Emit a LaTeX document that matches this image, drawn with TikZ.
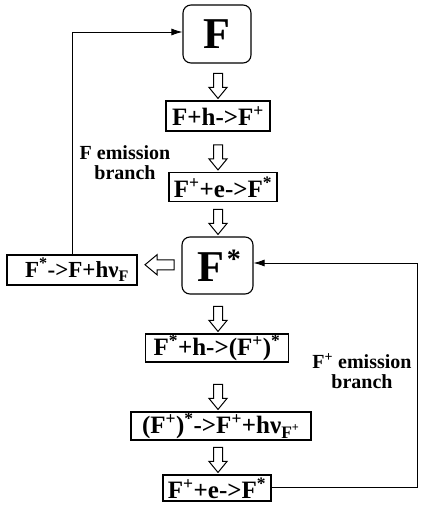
\documentclass[tikz,border=0pt]{standalone}
\usepackage{fontspec}
\setmainfont{Liberation Serif}
\usetikzlibrary{arrows.meta,calc}

\newcommand\hsup[1]{\textsuperscript{#1}}
\newcommand\hsub[1]{\textsubscript{#1}}
% hollow block arrows: \hdown takes the tip, \hleft the centre
\newcommand\hdown[1]{\draw[hollow] ($(#1)+(-4.5,-25)$) -- ++(0,14) -- ++(-4.5,0) -- ++(9,11) -- ++(9,-11) -- ++(-4.5,0) -- ++(0,-14) -- cycle;}
\newcommand\hleft[1]{\draw[hollow] ($(#1)+(14.5,-5)$) -- ++(-17,0) -- ++(0,-5) -- ++(-12,10) -- ++(12,10) -- ++(0,-5) -- ++(17,0) -- cycle;}

\begin{document}
\begin{tikzpicture}[x=1pt,y=-1pt,
  eqbox/.style={draw, line width=1.1pt, inner xsep=3pt, inner ysep=1pt, minimum height=28pt,
    font=\bfseries\fontsize{25}{25}\selectfont},
  statebox/.style={draw, line width=1.1pt, rounded corners=8pt,
    font=\bfseries\fontsize{44}{44}\selectfont},
  flow/.style={line width=0.8pt, -{Latex[length=11pt,width=7pt]}},
  branchtext/.style={align=center, font=\bfseries\fontsize{20}{20}\selectfont},
  hollow/.style={line width=1pt, fill=white, line join=miter}]

\fill[white] (0,0) rectangle (425,508);
\useasboundingbox (0,0) rectangle (425,508);

% main column
\node[statebox, minimum width=68pt, minimum height=58pt] (nF) at (217,34) {F};
\node[eqbox, minimum width=104pt, minimum height=30pt] (nB1) at (218,116) {F+h->F\hsup{+}};
\node[eqbox, minimum width=108pt, minimum height=29pt] (nB2) at (223,187) {F\hsup{+}+e->F\hsup{*}};
\node[statebox, minimum width=71pt, minimum height=57pt] (nFs) at (217.5,265.5)
  {\hspace*{3pt}F\hspace{3pt}\raisebox{13pt}{\fontsize{28}{28}\selectfont *}};
\node[eqbox, minimum width=143pt] (nB4) at (217,348) {F\hsup{*}+h->(F\hsup{+})\hsup{*}};
\node[eqbox, minimum width=180pt] (nB5) at (221,426) {(F\hsup{+})\hsup{*}->F\hsup{+}+hν\hsub{F\hsup{+}}};
\node[eqbox, minimum width=108pt, minimum height=26pt] (nB6) at (217,488) {F\hsup{+}+e->F\hsup{*}};

% side branch
\node[eqbox, minimum width=130pt, minimum height=30pt, font=\bfseries\fontsize{23}{23}\selectfont] (nL) at (72,270)
  {\hspace*{10pt}F\hsup{*}->F+hν\hsub{F}};

\node[branchtext] (tF) at (125,163) {F emission\\branch};
\node[branchtext] (tFp) at (362,371) {F\hsup{+} emission\\branch};

% hollow step arrows, tips just above the next box
\foreach \nxt in {nB1,nB2,nFs,nB4,nB5,nB6}{
  \hdown{$(\nxt.north -| nF.south)+(1,-2)$}
}
\coordinate (aL) at ($(nL.east)!0.5!(nFs.west) + (0,-3)$);
\hleft{aL}

% feedback loops
\draw[flow] (nL.north) |- ($(nF.west)+(0,-2)$);
\coordinate (rc) at (417,0);
\draw[flow] ($(nB6.east)+(0,-1)$) -- ($(nB6.east -| rc)+(0,-1)$) |- ($(nFs.east)+(0,-2.5)$);
\end{tikzpicture}
\end{document}
